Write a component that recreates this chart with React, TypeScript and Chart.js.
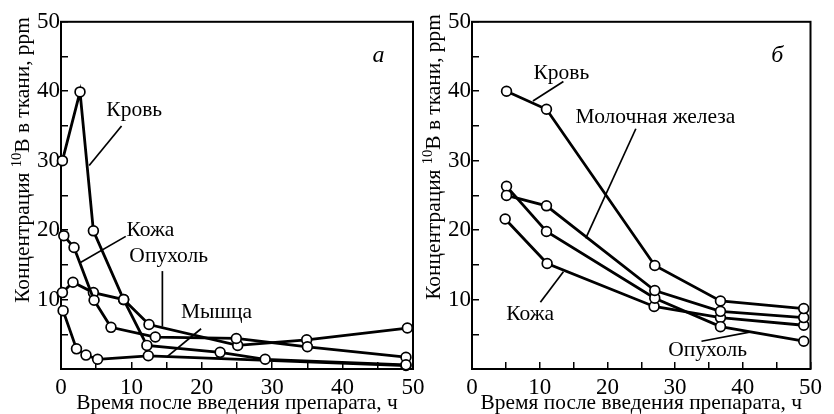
import React, { useEffect, useRef } from "react";
import { Chart, registerables } from "chart.js";

Chart.register(...registerables);

const SERIF = "'Liberation Serif', 'Times New Roman', Times, serif";

// ---------- Panel а ----------
const hoursBloodA = [0.2, 2.7, 4.6, 8.9, 12.2, 22.6, 29.0, 49.0];
const bloodA = [30.0, 39.9, 19.9, 10.0, 3.4, 2.4, 1.4, 0.6];
const hoursSkinA = [0.4, 1.85, 4.7, 7.1, 13.4, 24.9, 35.0, 49.0];
const skinA = [19.2, 17.5, 9.9, 6.0, 4.6, 4.4, 3.2, 1.7];
const hoursTumorA = [0.2, 1.7, 4.6, 8.9, 12.5, 25.1, 34.9, 49.2];
const tumorA = [11.0, 12.5, 11.0, 10.0, 6.4, 3.4, 4.2, 5.9];
const hoursMuscleA = [0.3, 2.2, 3.55, 5.2, 12.4, 49.0];
const muscleA = [8.4, 2.9, 2.0, 1.4, 1.9, 0.5];

// ---------- Panel б ----------
const hoursB = [5.1, 11.0, 27.0, 36.7, 49.0];
const bloodB = [40.0, 37.4, 14.9, 9.8, 8.7];
const glandB = [25.0, 23.5, 11.3, 8.3, 7.4];
const tumorB = [26.3, 19.8, 10.2, 6.1, 4.0];
const hoursSkinB = [4.9, 11.1, 26.9, 36.7, 49.0];
const skinB = [21.6, 15.2, 9.0, 7.4, 6.3];

// ---------- Axes ----------
const xTickLabels = [0, 10, 20, 30, 40, 50];
const yTickLabels = [10, 20, 30, 40, 50];
const xTitle = "Время после введения препарата, ч";
const yTitleParts = ["Концентрация ", "10", "B в ткани, ppm"];

// ---------- Annotations (data units) ----------
const notesA = [
  { text: "Кровь", x: 10.4, y: 37.25, line: [8.6, 35.0, 4.0, 29.3] },
  { text: "Кожа", x: 12.7, y: 20.0, line: [9.2, 19.1, 2.7, 15.3] },
  { text: "Опухоль", x: 15.3, y: 16.2, line: [14.4, 14.1, 14.4, 6.1] },
  { text: "Мышца", x: 22.1, y: 8.2, line: [19.9, 5.8, 15.0, 1.7] },
];
const notesB = [
  { text: "Кровь", x: 13.2, y: 42.6, line: [13.5, 41.4, 9.0, 38.6] },
  { text: "Молочная железа", x: 27.1, y: 36.25, line: [24.2, 34.6, 16.8, 18.8] },
  { text: "Кожа", x: 8.6, y: 7.93, line: [10.1, 9.6, 13.5, 14.0] },
  { text: "Опухоль", x: 34.8, y: 2.75, line: [33.9, 4.0, 41.0, 5.3] },
];

type Series = { name: string; x: number[]; y: number[] };

const seriesA: Series[] = [
  { name: "Кровь", x: hoursBloodA, y: bloodA },
  { name: "Кожа", x: hoursSkinA, y: skinA },
  { name: "Опухоль", x: hoursTumorA, y: tumorA },
  { name: "Мышца", x: hoursMuscleA, y: muscleA },
];
const seriesB: Series[] = [
  { name: "Кровь", x: hoursB, y: bloodB },
  { name: "Молочная железа", x: hoursB, y: glandB },
  { name: "Опухоль", x: hoursB, y: tumorB },
  { name: "Кожа", x: hoursSkinB, y: skinB },
];

const decorPlugin = {
  id: "panelDecor",
  beforeDatasetsDraw(chart: any) {
    const { ctx, chartArea } = chart;
    ctx.save();
    ctx.strokeStyle = "#000";
    ctx.lineWidth = 2;
    ctx.strokeRect(chartArea.left, chartArea.top, chartArea.right - chartArea.left, chartArea.bottom - chartArea.top);
    ctx.restore();
  },
  afterDatasetsDraw(chart: any, _a: any, opts: any) {
    const { ctx, chartArea } = chart;
    const xs = chart.scales.x;
    const ys = chart.scales.y;
    ctx.save();
    ctx.fillStyle = "#000";
    ctx.strokeStyle = "#000";
    // pointer lines
    ctx.lineWidth = 1.7;
    for (const n of opts.notes) {
      const [x1, y1, x2, y2] = n.line;
      ctx.beginPath();
      ctx.moveTo(xs.getPixelForValue(x1), ys.getPixelForValue(y1));
      ctx.lineTo(xs.getPixelForValue(x2), ys.getPixelForValue(y2));
      ctx.stroke();
    }
    // labels
    ctx.font = `21.5px ${SERIF}`;
    ctx.textAlign = "center";
    ctx.textBaseline = "middle";
    for (const n of opts.notes) {
      ctx.fillText(n.text, xs.getPixelForValue(n.x), ys.getPixelForValue(n.y));
    }
    // panel letter
    ctx.font = `italic 24px ${SERIF}`;
    ctx.fillText(opts.letter, xs.getPixelForValue(45.1), ys.getPixelForValue(45.1));
    // y title with superscript
    const big = `21.4px ${SERIF}`;
    const small = `14.5px ${SERIF}`;
    ctx.font = big;
    const w1 = ctx.measureText(yTitleParts[0]).width;
    const w3 = ctx.measureText(yTitleParts[2]).width;
    ctx.font = small;
    const w2 = ctx.measureText(yTitleParts[1]).width;
    const total = w1 + w2 + w3;
    ctx.translate(chartArea.left - 32, opts.titleCenter);
    ctx.rotate(-Math.PI / 2);
    ctx.textAlign = "left";
    ctx.textBaseline = "alphabetic";
    let cx = -total / 2;
    ctx.font = big;
    ctx.fillText(yTitleParts[0], cx, 0);
    cx += w1;
    ctx.font = small;
    ctx.fillText(yTitleParts[1], cx, -8);
    cx += w2;
    ctx.font = big;
    ctx.fillText(yTitleParts[2], cx, 0);
    ctx.restore();
  },
};

function makeConfig(series: Series[], notes: any[], letter: string, axisWidth: number, padRight: number, titleCenter: number) {
  return {
    type: "line" as const,
    data: {
      datasets: series.map((s) => ({
        label: s.name,
        data: s.x.map((x, i) => ({ x, y: s.y[i] })),
        borderColor: "#000",
        borderWidth: 2.8,
        pointRadius: 4.9,
        pointBackgroundColor: "#fff",
        pointBorderColor: "#000",
        pointBorderWidth: 1.7,
        tension: 0,
        fill: false,
        clip: 12,
      })),
    },
    options: {
      animation: false,
      responsive: false,
      devicePixelRatio: 1,
      layout: { padding: { top: 18, right: padRight, left: 0, bottom: 0 } },
      plugins: {
        legend: { display: false },
        tooltip: { enabled: false },
        panelDecor: { notes, letter, titleCenter },
      },
      scales: {
        x: {
          type: "linear",
          min: 0,
          max: 50,
          ticks: {
            stepSize: 5,
            autoSkip: false,
            maxRotation: 0,
            color: "#000",
            padding: 12,
            font: { family: SERIF, size: 23 },
            callback: (v: number) => (xTickLabels.includes(v) ? String(v) : ""),
          },
          grid: { drawOnChartArea: false, drawTicks: true, tickLength: -7, color: "#000", lineWidth: 1.5 },
          border: { display: false },
          title: {
            display: true,
            text: xTitle,
            color: "#000",
            font: { family: SERIF, size: 21.4, lineHeight: 1 },
            padding: { top: 0, bottom: 0 },
          },
          afterFit: (s: any) => {
            s.height = 45;
          },
        },
        y: {
          type: "linear",
          min: 0,
          max: 50,
          ticks: {
            stepSize: 5,
            autoSkip: false,
            color: "#000",
            padding: 8,
            font: { family: SERIF, size: 23 },
            callback: (v: number) => (yTickLabels.includes(v) ? String(v) : ""),
          },
          grid: { drawOnChartArea: false, drawTicks: true, tickLength: -7, color: "#000", lineWidth: 1.5 },
          border: { display: false },
          afterFit: (s: any) => {
            s.width = axisWidth;
          },
        },
      },
    },
    plugins: [decorPlugin],
  };
}

function Panel(props: { left: number; width: number; config: any }) {
  const ref = useRef<HTMLCanvasElement>(null);
  useEffect(() => {
    const chart = new Chart(ref.current as HTMLCanvasElement, props.config);
    return () => chart.destroy();
  }, []);
  return (
    <canvas
      ref={ref}
      width={props.width}
      height={414}
      style={{ position: "absolute", left: props.left, top: 0, width: props.width, height: 414 }}
    />
  );
}

export default function App() {
  const cfgA = makeConfig(seriesA, notesA, "а", 61, 32, 160);
  const cfgB = makeConfig(seriesB, notesB, "б", 52, 11, 157);
  return (
    <div style={{ position: "fixed", left: 0, top: 0, width: 834, height: 414, background: "#fff", overflow: "hidden" }}>
      <Panel left={0} width={445} config={cfgA} />
      <Panel left={420} width={414} config={cfgB} />
    </div>
  );
}
